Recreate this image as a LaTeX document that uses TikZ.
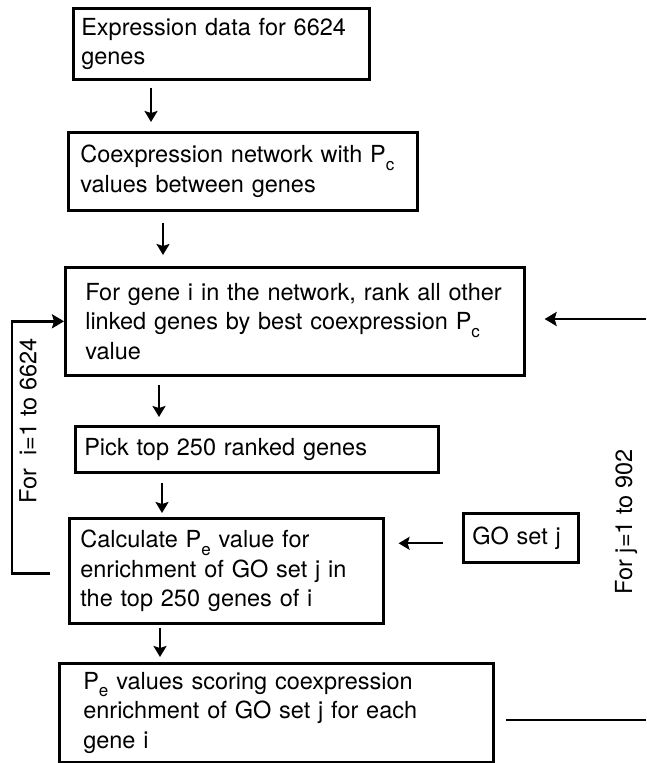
\documentclass[tikz,border=0pt]{standalone}
\usepackage{fontspec}
\setmainfont{TeX Gyre Heros}
\usetikzlibrary{arrows.meta}
\newcommand{\psub}[1]{P\raisebox{-0.32em}{\fontsize{17}{17}\selectfont #1}}
\tikzset{
  stepbox/.style = {draw=black, line width=2.6pt, anchor=north west, align=left, inner sep=0pt, font=\fontsize{23.5}{29.5}\selectfont},
  flowarrow/.style = {line width=2pt, -{Stealth[length=11pt, width=13pt, inset=2pt]}},
  loopline/.style = {line width=2.6pt},
  looparrow/.style = {loopline, -{Stealth[length=12pt, width=14pt, inset=2pt]}},
  looplabel/.style = {rotate=90, inner sep=0pt, font=\fontsize{23.5}{29.5}\selectfont}
}

\begin{document}
\begin{tikzpicture}[x=1pt, y=-1pt]
\useasboundingbox (0,0) rectangle (646,763);
\node [stepbox, minimum width=296pt, minimum height=71pt, text width=280pt] (expr) at (72,7)
  {Expression data for 6624\\genes};
\node [stepbox, minimum width=349pt, minimum height=78pt, text width=325pt] (coexp) at (67,131)
  {Coexpression network with \psub{c}\\values between genes};
\node [stepbox, minimum width=459pt, minimum height=108pt, text width=419pt] (rank) at (64,266)
  {For gene i in the network, rank all other\\linked genes by best coexpression \psub{c}\\value};
\node [stepbox, minimum width=363pt, minimum height=46pt, text width=345pt] (pick) at (74,425)
  {Pick top 250 ranked genes};
\node [stepbox, minimum width=314pt, minimum height=105pt, text width=292pt] (calc) at (68,517)
  {Calculate \psub{e} value for\\enrichment of GO set j in\\the top 250 genes of i};
\node [stepbox, minimum width=115pt, minimum height=49pt, text width=97pt] (goset) at (462,512)
  {GO set j};
\node [stepbox, minimum width=434pt, minimum height=99pt, text width=386pt] (pvals) at (58,662)
  {\psub{e} values scoring coexpression\\enrichment of GO set j for each\\gene i};

\draw [flowarrow, shorten <=7pt, shorten >=9pt] (expr.south -| 151,0) -- (coexp.north -| 151,0);
\draw [flowarrow, shorten <=11pt, shorten >=11pt] (coexp.south -| 163,0) -- (rank.north -| 163,0);
\draw [flowarrow, shorten <=8pt, shorten >=8pt] (rank.south -| 159,0) -- (pick.north -| 159,0);
\draw [flowarrow, shorten <=9pt, shorten >=4pt] (pick.south -| 162,0) -- (calc.north -| 162,0);
\draw [flowarrow, shorten <=3pt, shorten >=5pt] (calc.south -| 160,0) -- (pvals.north -| 160,0);
\draw [flowarrow, shorten <=19pt, shorten >=14pt] ([yshift=-5.5pt]goset.west) -- ([yshift=-5.5pt]goset.west -| calc.east);

% loop over genes i
\draw [looparrow] ([xshift=-18pt, yshift=-2.5pt]calc.west) -| ([xshift=-52pt]rank.west) -- (rank.west);
\node [looplabel] (ilabel) at (28,421) {For\ \ i=1 to 6624};

% loop over GO sets j
\coordinate (jtop) at (646,319);
\coordinate (jbot) at (646,720);
\draw [looparrow, shorten >=19pt] (jtop) -- (jtop -| rank.east);
\draw [loopline, shorten >=11pt] (jbot) -- (jbot -| pvals.east);
\node [looplabel] (jlabel) at (626,522) {For j=1 to 902};
\end{tikzpicture}
\end{document}
